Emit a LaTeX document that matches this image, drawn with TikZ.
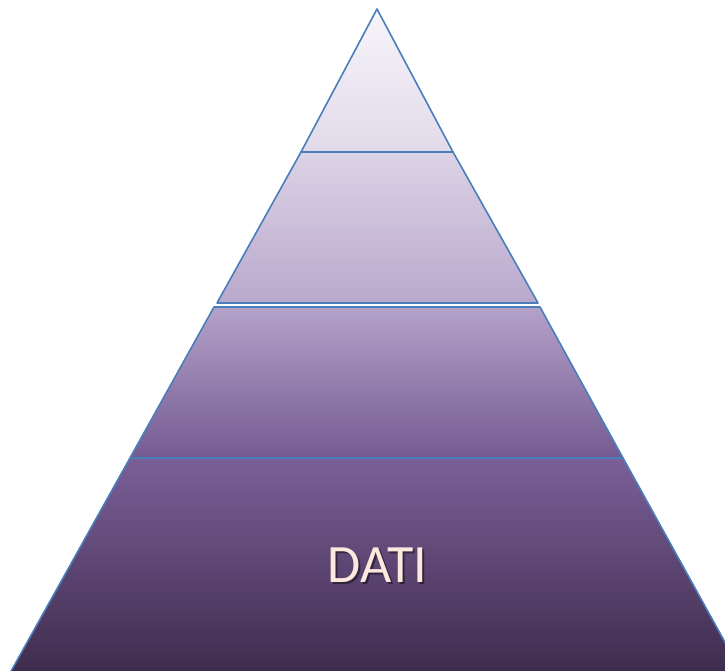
\documentclass[tikz,border=0pt]{standalone}
\usepackage{fontspec}
\setmainfont{Carlito}
\definecolor{edgeblue}{HTML}{4A7EBB}
\definecolor{l1top}{HTML}{F7F5FA}
\definecolor{l1bot}{HTML}{E2DAEA}
\definecolor{l2top}{HTML}{DCD3E6}
\definecolor{l2bot}{HTML}{B9A8CC}
\definecolor{l3top}{HTML}{B4A2C9}
\definecolor{l3mid}{HTML}{9B86B3}
\definecolor{l3bot}{HTML}{745A92}
\definecolor{l4top}{HTML}{7B5F98}
\definecolor{l4bot}{HTML}{3E2C4D}
\definecolor{labeltext}{HTML}{FCE8DC}
\tikzset{
  layer/.style={draw=edgeblue, line width=1.6pt, line join=round},
  label/.style={font=\fontsize{54}{60}\selectfont, text=labeltext, inner sep=0pt},
  labelshadow/.style={font=\fontsize{54}{60}\selectfont, text=black, opacity=0.45, inner sep=0pt}
}
\begin{document}
\begin{tikzpicture}[x=1pt,y=-1pt]
\useasboundingbox (0,0) rectangle (725,670);
\begin{scope}
\clip (0,0) rectangle (725,670);
% layer 1 (apex)
\shade[top color=l1top, bottom color=l1bot] (377,9) -- (453,152) -- (301,152) -- cycle;
\draw[layer] (377,9) -- (453,152) -- (301,152) -- cycle;
% layer 2
\shade[top color=l2top, bottom color=l2bot] (301,152) -- (453,152) -- (538,303) -- (217,303) -- cycle;
\draw[layer] (301,152) -- (453,152) -- (538,303) -- (217,303) -- cycle;
% layer 3
\shade[top color=l3top, middle color=l3mid, bottom color=l3bot] (214,307) -- (540,307) -- (623,458) -- (130,458) -- cycle;
\draw[layer] (214,307) -- (540,307) -- (623,458) -- (130,458) -- cycle;
% layer 4
\shade[top color=l4top, bottom color=l4bot] (130,458) -- (623,458) -- (742,673) -- (10,673) -- cycle;
\draw[layer] (130,458) -- (623,458) -- (742,673) -- (10,673) -- cycle;
\end{scope}
\node[labelshadow] (datishadow) at (379.5,567.5) {DATI};
\node[label] (dati) at (377.5,565) {DATI};
\end{tikzpicture}
\end{document}
